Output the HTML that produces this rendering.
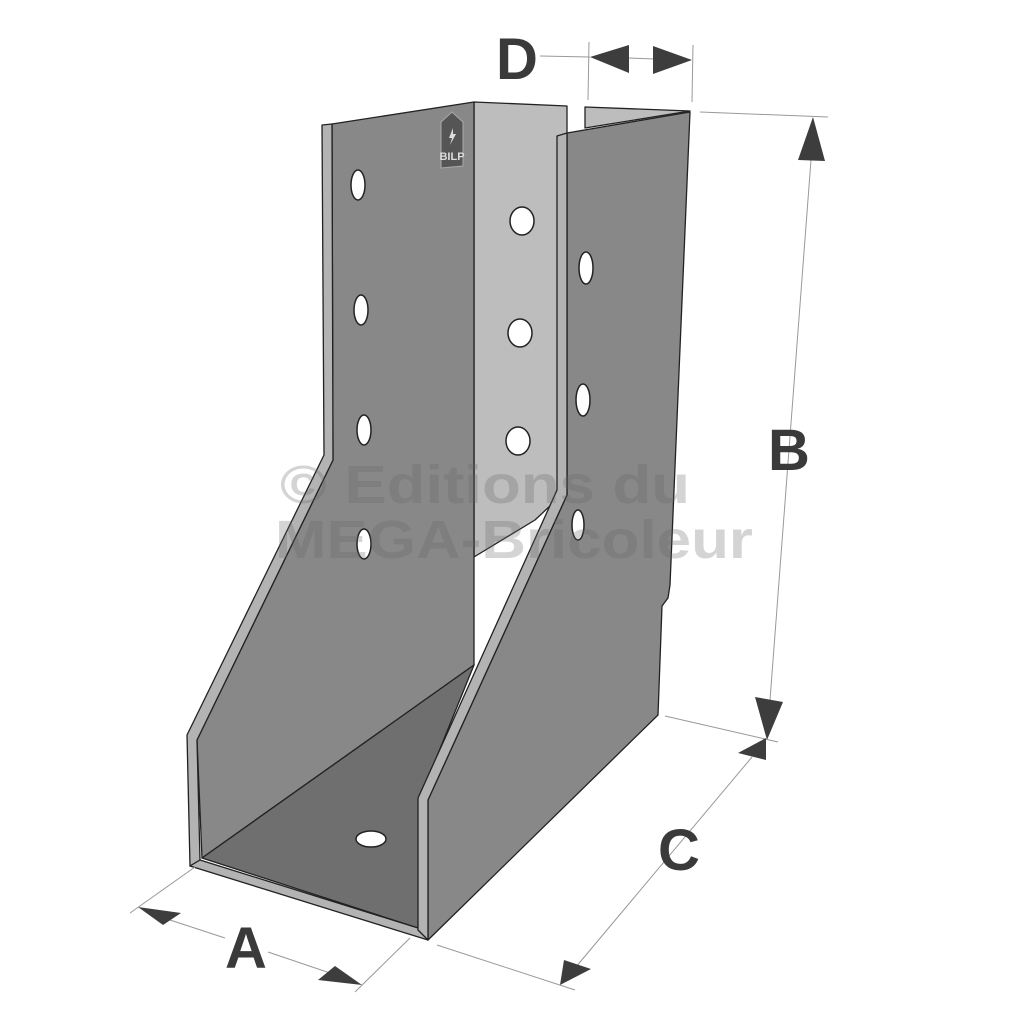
<!DOCTYPE html>
<html><head><meta charset="utf-8"><style>
html,body{margin:0;padding:0;background:#fff;}
svg{display:block;}
text{font-family:"Liberation Sans","DejaVu Sans",sans-serif;font-weight:bold;}
</style></head><body>
<svg width="1024" height="1024" viewBox="0 0 1024 1024" xmlns="http://www.w3.org/2000/svg">
<rect width="1024" height="1024" fill="#fff"/>
<g stroke="#222" stroke-width="1.3" stroke-linejoin="round">
<polygon points="474,102 567,106 567,490 535,520 474,557" fill="#bdbdbd"/>
<polygon points="585,107 690,111 585,128" fill="#bdbdbd"/>
<polygon points="332,124 474,102 474,665 202,858 197,740 333,460" fill="#888"/>
<polygon points="322,125 332,124 333,460 197,740 200,860 190,866 187,735 324,455" fill="#b3b3b3"/>
<polygon points="202,858 474,665 420,798 418,928" fill="#6f6f6f"/>
<polygon points="190,866 200,860 418,928 428,940" fill="#b3b3b3"/>
<polygon points="567,133 690,112 670,585 668,598 662,606 658,715 428,940 428,800 567,495" fill="#888"/>
<polygon points="557,136 567,133 567,495 428,800 428,940 418,930 418,798 557,490" fill="#b3b3b3"/>
</g>
<g fill="#fff" stroke="#222" stroke-width="1.5">
<ellipse cx="358" cy="185" rx="7" ry="15"/>
<ellipse cx="361" cy="310" rx="7" ry="15"/>
<ellipse cx="364" cy="430" rx="7" ry="15"/>
<ellipse cx="364" cy="544" rx="7" ry="15"/>
<ellipse cx="522" cy="221" rx="12" ry="14"/>
<ellipse cx="520" cy="333" rx="12" ry="14"/>
<ellipse cx="518" cy="441" rx="12" ry="14"/>
<ellipse cx="586" cy="268" rx="7" ry="16"/>
<ellipse cx="583" cy="400" rx="7" ry="16"/>
<ellipse cx="578" cy="525" rx="6" ry="15"/>
<ellipse cx="371" cy="839" rx="15" ry="8"/>
</g>
<path d="M441,122 L452,112 L463,122 L463,166 L441,168 Z" fill="#555" stroke="#aaa" stroke-width="1"/>
<text x="452" y="160" font-size="11" fill="#ddd" text-anchor="middle">BILP</text>
<path d="M453,128 L449,138 L452,138 L450,145 L456,134 L453,134 Z" fill="#ddd"/>
<g fill="#646464" fill-opacity="0.28" font-size="54" style="font-family:'DejaVu Sans',sans-serif">
<text x="280" y="503" textLength="410" lengthAdjust="spacingAndGlyphs">© Editions du</text>
<text x="275" y="558" textLength="478" lengthAdjust="spacingAndGlyphs">MEGA-Bricoleur</text>
</g>
<g stroke="#999" stroke-width="1" fill="none">
<line x1="540" y1="56" x2="590" y2="57"/>
<line x1="628" y1="58" x2="655" y2="59"/>
<line x1="589" y1="42" x2="588" y2="100"/>
<line x1="693" y1="45" x2="692" y2="102"/>
<line x1="700" y1="112" x2="828" y2="117"/>
<line x1="811" y1="160" x2="770" y2="700"/>
<line x1="665" y1="716" x2="778" y2="742"/>
<line x1="752" y1="757" x2="565" y2="980"/>
<line x1="437" y1="945" x2="575" y2="990"/>
<line x1="130" y1="913" x2="195" y2="867"/>
<line x1="355" y1="992" x2="410" y2="938"/>
<line x1="170" y1="920" x2="225" y2="938"/>
<line x1="268" y1="952" x2="330" y2="973"/>
</g>
<g fill="#3d3d3d">
<polygon points="590,57 629,45 629,73"/>
<polygon points="692,60 653,46 653,74"/>
<polygon points="813,117 798,160 825,161"/>
<polygon points="767,740 755,697 783,702"/>
<polygon points="766,738 738,753 766,760"/>
<polygon points="560,985 564,960 591,969"/>
<polygon points="138,907 181,913 163,925"/>
<polygon points="362,985 318,980 335,966"/>
</g>
<g fill="#3a3a3a" font-size="58" text-anchor="middle">
<text x="517" y="79">D</text>
<text x="789" y="470">B</text>
<text x="679" y="870">C</text>
<text x="246" y="968">A</text>
</g>
</svg>
</body></html>
